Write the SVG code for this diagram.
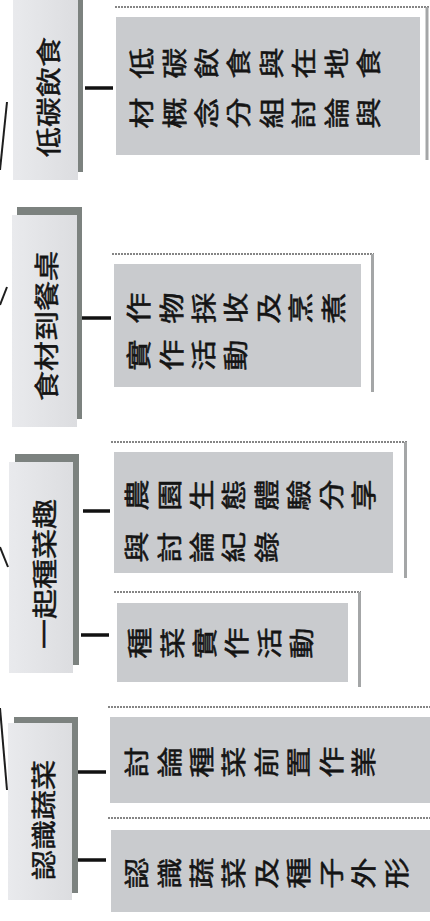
<svg xmlns="http://www.w3.org/2000/svg" width="430" height="921" viewBox="0 0 430 921">
<defs>
<style>
.main{font-family:"Noto Sans CJK TC","Noto Sans CJK SC",sans-serif;font-size:25px;fill:#141414;stroke:#141414;stroke-width:0.5px;}
.sub{font-family:"Noto Sans CJK TC","Noto Sans CJK SC",sans-serif;font-size:25px;fill:#141414;stroke:#141414;stroke-width:0.5px;letter-spacing:7.5px;}
.shadow{fill:#7c827f;}
.card{fill:url(#cardGrad);}
.ftop{stroke:#5e5e5e;stroke-width:1.6;stroke-dasharray:2 1;fill:none;}
.fright{stroke:#a4a6a7;stroke-width:3;fill:none;}
.fill{fill:#c9cbce;}
.conn{stroke:#111;stroke-width:3.5;fill:none;}
.trunk{stroke:#1e1e1e;stroke-width:2;fill:none;}
</style>
<linearGradient id="cardGrad" x1="0" y1="0" x2="1" y2="0">
<stop offset="0" stop-color="#e9eaed"/>
<stop offset="1" stop-color="#dcdde0"/>
</linearGradient>
</defs>
<rect width="430" height="921" fill="#ffffff"/>

<g id="connectors">
<line class="trunk" x1="7" y1="102" x2="0" y2="170"/>
<line class="trunk" x1="7" y1="287" x2="0" y2="305"/>
<line class="trunk" x1="0" y1="547" x2="8" y2="567"/>
<line class="trunk" x1="0" y1="708" x2="7" y2="790"/>
<line class="conn" x1="85" y1="88" x2="113" y2="88"/>
<line class="conn" x1="82" y1="318" x2="111" y2="318"/>
<line class="conn" x1="83" y1="511" x2="110" y2="511"/>
<line class="conn" x1="81" y1="635" x2="109" y2="635"/>
<line class="conn" x1="77" y1="772" x2="106" y2="772"/>
<line class="conn" x1="78" y1="860" x2="106" y2="860"/>
</g>

<g id="node-lowcarbon">
<rect class="shadow" x="18" y="-10" width="65" height="182"/>
<rect class="card" x="13" y="-2" width="65" height="182"/>
<text class="main" transform="translate(47,97) scale(1,1.2) rotate(-90)" text-anchor="middle" dominant-baseline="central">低碳飲食</text>
</g>

<g id="node-table">
<rect class="shadow" x="17" y="207" width="65" height="212"/>
<rect class="card" x="12" y="215" width="65" height="212"/>
<text class="main" transform="translate(45,326) scale(1,1.2) rotate(-90)" text-anchor="middle" dominant-baseline="central">食材到餐桌</text>
</g>

<g id="node-planting">
<rect class="shadow" x="15" y="454" width="64" height="211"/>
<rect class="card" x="9" y="462" width="64" height="211"/>
<text class="main" transform="translate(43,574) scale(1,1.2) rotate(-90)" text-anchor="middle" dominant-baseline="central">一起種菜趣</text>
</g>

<g id="node-vegetables">
<rect class="shadow" x="14" y="717" width="64" height="176"/>
<rect class="card" x="8" y="723" width="64" height="177"/>
<text class="main" transform="translate(42,820) scale(1,1.2) rotate(-90)" text-anchor="middle" dominant-baseline="central">認識蔬菜</text>
</g>

<g id="sub-lowcarbon">
<line class="ftop" x1="115" y1="7" x2="430" y2="7"/>
<line class="fright" x1="427" y1="7" x2="427" y2="160"/>
<rect class="fill" x="116" y="17" width="304" height="138"/>
<text class="sub" transform="translate(0,63) scale(1,1.25)" x="151" y="12.5" rotate="-90">低碳飲食與在地食</text>
<text class="sub" transform="translate(0,113) scale(1,1.25)" x="151" y="12.5" rotate="-90">材概念分組討論與</text>
</g>

<g id="sub-harvest">
<line class="ftop" x1="112" y1="254" x2="374" y2="254"/>
<line class="fright" x1="372.5" y1="254" x2="372.5" y2="392"/>
<rect class="fill" x="114" y="264" width="247" height="123"/>
<text class="sub" transform="translate(0,308) scale(1,1.25)" x="148" y="12.5" rotate="-90">作物採收及烹煮</text>
<text class="sub" transform="translate(0,355) scale(1,1.25)" x="148" y="12.5" rotate="-90">實作活動</text>
</g>

<g id="sub-farm">
<line class="ftop" x1="111" y1="442" x2="407" y2="442"/>
<line class="fright" x1="405.5" y1="442" x2="405.5" y2="578"/>
<rect class="fill" x="114" y="452" width="279" height="121"/>
<text class="sub" transform="translate(0,495) scale(1,1.25)" x="146" y="12.5" rotate="-90">農園生態體驗分享</text>
<text class="sub" transform="translate(0,547) scale(1,1.25)" x="146" y="12.5" rotate="-90">與討論紀錄</text>
</g>

<g id="sub-practice">
<line class="ftop" x1="114" y1="592" x2="361" y2="592"/>
<line class="fright" x1="359.5" y1="592" x2="359.5" y2="687"/>
<rect class="fill" x="117" y="603" width="231" height="79"/>
<text class="sub" transform="translate(0,643) scale(1,1.25)" x="149" y="12.5" rotate="-90">種菜實作活動</text>
</g>

<g id="sub-prework">
<line class="ftop" x1="108" y1="707" x2="430" y2="707"/>
<rect class="fill" x="110" y="717" width="320" height="86"/>
<text class="sub" transform="translate(0,762) scale(1,1.25)" x="146" y="12.5" rotate="-90">討論種菜前置作業</text>
</g>

<g id="sub-seeds">
<line class="ftop" x1="108" y1="818" x2="430" y2="818"/>
<rect class="fill" x="111" y="830" width="319" height="82"/>
<text class="sub" transform="translate(0,873) scale(1,1.25)" x="146" y="12.5" rotate="-90">認識蔬菜及種子外形</text>
</g>
</svg>
